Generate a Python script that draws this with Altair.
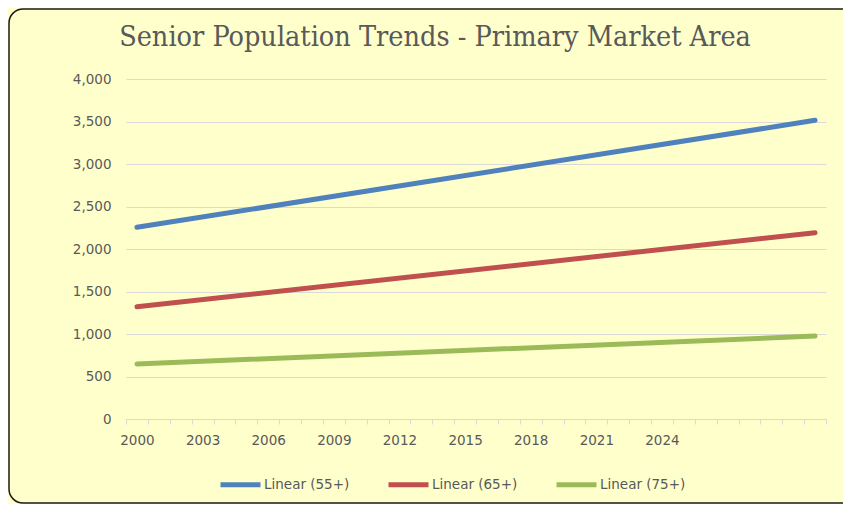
import altair as alt
import pandas as pd

# Categories on the x axis (annual, trendline forecast extends past 2024)
years = [str(y) for y in range(2000, 2032)]
tick_labels = ["2000", "2003", "2006", "2009", "2012", "2015", "2018", "2021", "2024"]
y_ticks = [0, 500, 1000, 1500, 2000, 2500, 3000, 3500, 4000]

# Linear trendline endpoints
end_years = ["2000", "2031"]
s55 = [2255, 3514]
s65 = [1321, 2192]
s75 = [647, 976]
series_names = ["Linear (55+)", "Linear (65+)", "Linear (75+)"]
colors = ["#4F81BD", "#C0504D", "#9BBB59"]
title_text = "Senior Population Trends - Primary Market Area"

rows = []
for name, vals in zip(series_names, [s55, s65, s75]):
    for yr, v in zip(end_years, vals):
        rows.append({"year": yr, "value": v, "series": name})
df = pd.DataFrame(rows)

label_list = "[" + ",".join("'" + t + "'" for t in tick_labels) + "]"

W, H = 700, 340
PL, PT, PR, PB = 118, 71, 17, 85
FONT = "DejaVu Sans"
TXT = "#595959"

frame = alt.Chart(alt.Data(values=[{}])).mark_rect(
    fillOpacity=0, stroke="#1a1a1a", strokeWidth=1.5, cornerRadius=14
).encode(
    x=alt.value(-PL + 1), x2=alt.value(W + PR + 30),
    y=alt.value(-PT + 1), y2=alt.value(H + PB - 1),
)

title = alt.Chart(alt.Data(values=[{"t": title_text}])).mark_text(
    font="DejaVu Serif Condensed, DejaVu Serif", fontSize=28.5, color=TXT,
    align="center", baseline="alphabetic",
).encode(text="t:N", x=alt.value(309), y=alt.value(-33))

lines = alt.Chart(df).mark_line(strokeWidth=5, strokeCap="round").encode(
    x=alt.X("year:O",
            scale=alt.Scale(type="band", domain=years, paddingInner=0, paddingOuter=0),
            axis=alt.Axis(title=None, labelAngle=0, tickBand="extent", tickSize=5,
                          tickColor="#D9D9D9", domainColor="#D9D9D9", labelPadding=9,
                          labelFont=FONT, labelFontSize=13.5, labelColor=TXT,
                          labelExpr="indexof(" + label_list + ", datum.label) >= 0 ? datum.label : ''",
                          grid=False, labelOverlap=False)),
    y=alt.Y("value:Q", scale=alt.Scale(domain=[0, 4000], nice=False),
            axis=alt.Axis(title=None, values=y_ticks, format=",.0f",
                          domain=False, ticks=False, labelPadding=15,
                          labelFont=FONT, labelFontSize=13.5, labelColor=TXT,
                          gridColor="#D9D9D9", gridWidth=1)),
    color=alt.Color("series:N",
                    scale=alt.Scale(domain=series_names, range=colors),
                    legend=alt.Legend(title=None, orient="none", direction="horizontal",
                                      legendX=92, legendY=383,
                                      symbolType="stroke", symbolSize=1600,
                                      symbolStrokeWidth=5, labelFont=FONT,
                                      labelFontSize=13.5, labelColor=TXT,
                                      labelOffset=1, columnPadding=28, padding=0)),
    detail="series:N",
)

chart = alt.layer(frame, title, lines).properties(
    width=W, height=H,
    padding={"left": PL, "top": PT, "right": PR, "bottom": PB},
    autosize=alt.AutoSizeParams(type="none"),
    background="#FFFFCC",
).configure_view(stroke=None)

chart.save("out.html", embed_options={"renderer": "svg", "actions": False})
